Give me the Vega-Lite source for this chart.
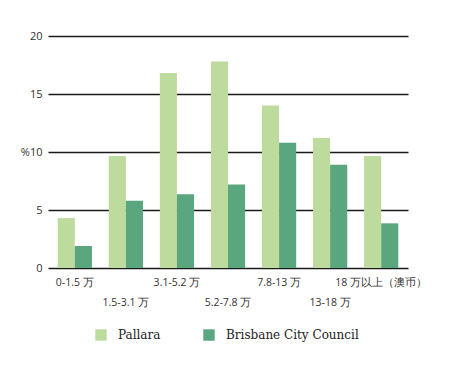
{
  "$schema": "https://vega.github.io/schema/vega-lite/v6.json",
  "width": 360,
  "height": 232,
  "autosize": {"type": "none"},
  "padding": {"left": 48, "top": 36, "right": 52, "bottom": 114},
  "background": "white",
  "config": {"view": {"stroke": null}},
  "data": {
    "values": [
      {"range": "0-1.5 万", "area": "Pallara", "pct": 4.3},
      {"range": "0-1.5 万", "area": "Brisbane City Council", "pct": 1.9},
      {"range": "1.5-3.1 万", "area": "Pallara", "pct": 9.65},
      {"range": "1.5-3.1 万", "area": "Brisbane City Council", "pct": 5.8},
      {"range": "3.1-5.2 万", "area": "Pallara", "pct": 16.8},
      {"range": "3.1-5.2 万", "area": "Brisbane City Council", "pct": 6.35},
      {"range": "5.2-7.8 万", "area": "Pallara", "pct": 17.8},
      {"range": "5.2-7.8 万", "area": "Brisbane City Council", "pct": 7.2},
      {"range": "7.8-13 万", "area": "Pallara", "pct": 14.0},
      {"range": "7.8-13 万", "area": "Brisbane City Council", "pct": 10.8},
      {"range": "13-18 万", "area": "Pallara", "pct": 11.2},
      {"range": "13-18 万", "area": "Brisbane City Council", "pct": 8.9},
      {"range": "18 万以上（澳币）", "area": "Pallara", "pct": 9.65},
      {"range": "18 万以上（澳币）", "area": "Brisbane City Council", "pct": 3.85}
    ]
  },
  "mark": {"type": "bar"},
  "encoding": {
    "x": {
      "field": "range",
      "type": "nominal",
      "sort": null,
      "title": null,
      "scale": {"paddingInner": 0.33, "paddingOuter": 0.19},
      "axis": {
        "domain": false,
        "ticks": false,
        "labelAngle": 0,
        "labelFont": "Open Sans",
        "labelFontSize": 10.5,
        "labelColor": "#333333",
        "labelPadding": 9,
        "labelLineHeight": 20,
        "labelExpr": "indexof(['1.5-3.1 万','5.2-7.8 万','13-18 万'], datum.value) >= 0 ? ['', datum.label] : datum.label"
      }
    },
    "xOffset": {
      "field": "area",
      "type": "nominal",
      "sort": ["Pallara", "Brisbane City Council"],
      "scale": {"paddingInner": 0, "paddingOuter": 0}
    },
    "y": {
      "field": "pct",
      "type": "quantitative",
      "title": null,
      "scale": {"domain": [0, 20], "nice": false},
      "axis": {
        "values": [0, 5, 10, 15, 20],
        "domain": false,
        "ticks": false,
        "grid": true,
        "gridColor": "#1a1a1a",
        "gridWidth": 1.5,
        "gridOpacity": 1,
        "labelFont": "Open Sans",
        "labelFontSize": 11,
        "labelColor": "#333333",
        "labelPadding": 6,
        "labelExpr": "datum.value == 10 ? '%10' : datum.label"
      }
    },
    "color": {
      "field": "area",
      "type": "nominal",
      "sort": ["Pallara", "Brisbane City Council"],
      "scale": {"domain": ["Pallara", "Brisbane City Council"], "range": ["#bddb9c", "#5aa67e"]},
      "legend": {
        "title": null,
        "orient": "none",
        "legendX": 47,
        "legendY": 293,
        "direction": "horizontal",
        "symbolType": "square",
        "symbolSize": 130,
        "symbolStrokeWidth": 0,
        "labelFont": "DejaVu Serif",
        "labelFontSize": 12,
        "labelColor": "#222222",
        "labelOffset": 11,
        "columnPadding": 42
      }
    }
  }
}
